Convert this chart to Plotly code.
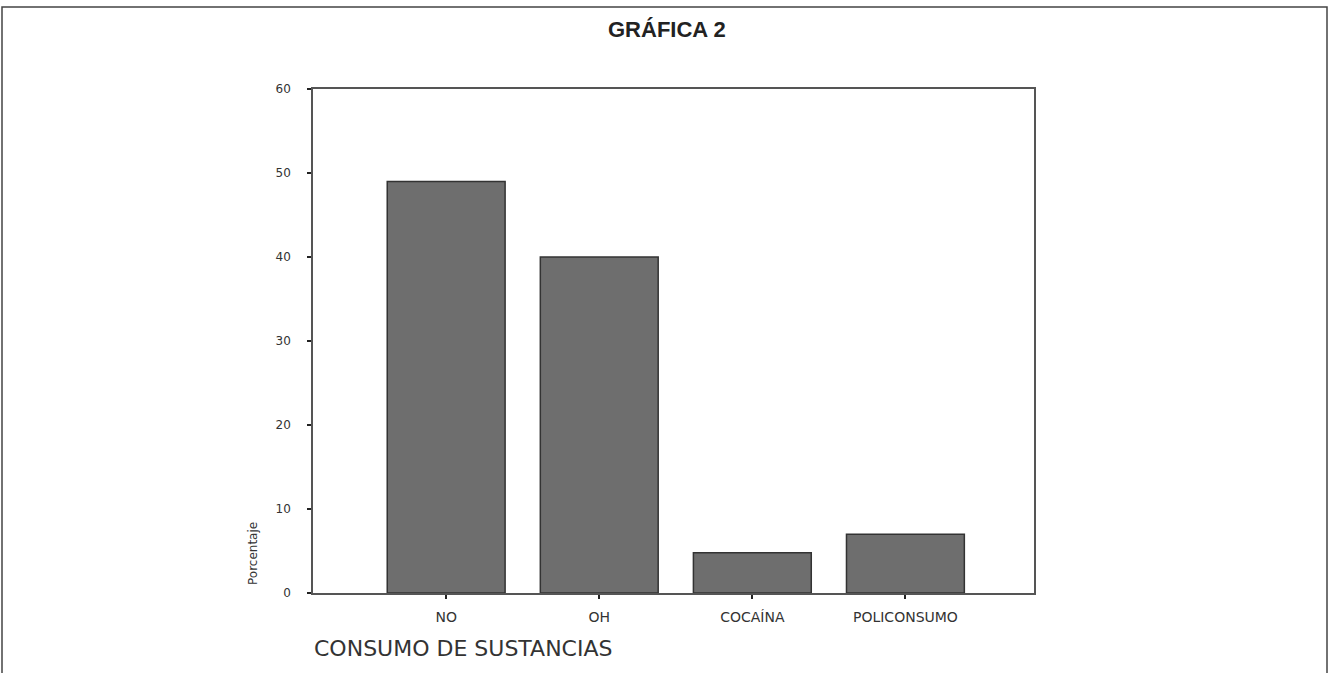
import plotly.graph_objects as go

categories = ["NO", "OH", "COCAÍNA", "POLICONSUMO"]
values = [49, 40, 4.8, 7]
y_ticks = [0, 10, 20, 30, 40, 50, 60]

W, H = 1333, 673
plot_left, plot_right, plot_top, plot_bottom = 313, 1034, 89, 593
L = plot_left
R = W - plot_right
T = plot_top
B = H - plot_bottom
pw, ph = W - L - R, H - T - B

def px_x(px):
    return (px - plot_left) / pw

def px_y(py):
    return (plot_bottom - py) / ph

fig = go.Figure()
fig.add_trace(go.Bar(
    x=categories, y=values,
    marker=dict(color="#6e6e6e", line=dict(color="#333333", width=1.5)),
    width=0.77,
    hoverinfo="skip",
))

fig.update_layout(
    width=W, height=H,
    margin=dict(l=L, r=R, t=T, b=B),
    paper_bgcolor="white", plot_bgcolor="white",
    showlegend=False,
    xaxis=dict(
        range=[-0.87, 3.84], showgrid=False, zeroline=False,
        showline=True, linecolor="#555555", linewidth=1.5, mirror=True,
        ticks="outside", ticklen=4, tickwidth=2, tickcolor="#222222",
        tickfont=dict(family="DejaVu Sans, sans-serif", size=14, color="#333333"),
        ticklabelstandoff=6,
    ),
    yaxis=dict(
        range=[0, 60], tickvals=y_ticks, showgrid=False, zeroline=False,
        showline=True, linecolor="#555555", linewidth=1.5, mirror=True,
        ticks="outside", ticklen=4, tickwidth=2, tickcolor="#222222",
        tickfont=dict(family="DejaVu Sans, sans-serif", size=12, color="#333333"),
        ticklabelstandoff=14,
    ),
    shapes=[
        dict(type="path", xref="paper", yref="paper",
             path=f"M {px_x(2)} {px_y(700)} L {px_x(2)} {px_y(7)} L {px_x(1327)} {px_y(7)} L {px_x(1327)} {px_y(700)}",
             line=dict(color="#444444", width=1.5)),
    ],
    annotations=[
        dict(text="<b>GRÁFICA 2</b>", xref="paper", yref="paper",
             x=px_x(667), y=px_y(30), xanchor="center", yanchor="middle",
             showarrow=False,
             font=dict(family="Liberation Sans, Arial, sans-serif", size=22, color="#222222")),
        dict(text="CONSUMO DE SUSTANCIAS", xref="paper", yref="paper",
             x=px_x(312), y=px_y(648), xanchor="left", yanchor="middle",
             showarrow=False,
             font=dict(family="DejaVu Sans, sans-serif", size=22, color="#333333")),
        dict(text="Porcentaje", xref="paper", yref="paper",
             x=px_x(253), y=px_y(554), xanchor="center", yanchor="middle",
             textangle=-90, showarrow=False,
             font=dict(family="DejaVu Sans, sans-serif", size=12, color="#333333")),
    ],
)

fig.write_html(
    "out.html",
    config={"displayModeBar": False},
    post_script="document.body.style.margin='0';document.body.style.overflow='hidden';",
)
